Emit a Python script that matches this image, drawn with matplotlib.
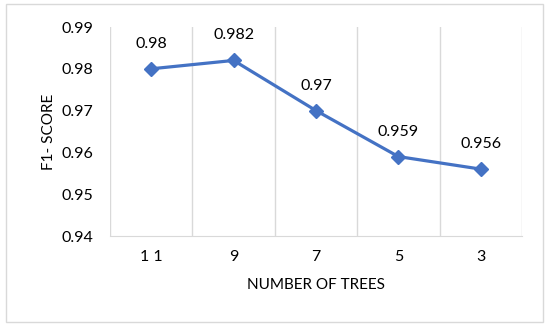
import matplotlib.pyplot as plt
from matplotlib.patches import Rectangle

# data
trees = ["1 1", "9", "7", "5", "3"]
f1 = [0.98, 0.982, 0.97, 0.959, 0.956]
yticks = [0.94, 0.95, 0.96, 0.97, 0.98, 0.99]

plt.rcParams['font.family'] = ['Lato', 'DejaVu Sans']

W, H = 550, 327
fig = plt.figure(figsize=(5.5, 3.27), dpi=100)
ax = fig.add_axes([110 / W, 1 - 236 / H, (522 - 110) / W, (236 - 27) / H])

x = list(range(len(trees)))
ax.plot(x, f1, color='#4472C4', lw=2.3, marker='D', ms=7, zorder=3)
for xi, v in zip(x, f1):
    ax.annotate(f"{v:g}", (xi, v), xytext=(0, 18), textcoords='offset points',
                ha='center', va='center', fontsize=11.5, color='#000000')

ax.set_xlim(-0.5, len(trees) - 0.5)
ax.set_ylim(0.94, 0.99)
ax.set_yticks(yticks)
ax.set_yticklabels([f"{t:.2f}" for t in yticks])
ax.set_xticks(x)
ax.set_xticklabels(trees)

# vertical gridlines at category boundaries
for b in [i - 0.5 for i in range(len(trees) + 1)]:
    ax.axvline(b, color='#D9D9D9', lw=1, zorder=1)

for s in ['top', 'right', 'left']:
    ax.spines[s].set_visible(False)
ax.spines['bottom'].set_color('#D9D9D9')
ax.tick_params(length=0, labelsize=11.5, pad=10, colors='#000000')
ax.tick_params(axis='y', pad=12)

ax.set_xlabel("NUMBER OF TREES", fontsize=11, labelpad=10)
ax.set_ylabel("F1- SCORE", fontsize=11, labelpad=4)

fig.patches.append(Rectangle((6 / W, 1 - 322 / H), (543 - 6) / W, (322 - 4) / H,
                             transform=fig.transFigure, fill=False,
                             edgecolor='#D9D9D9', lw=1))

fig.savefig("out.png", dpi=100)
